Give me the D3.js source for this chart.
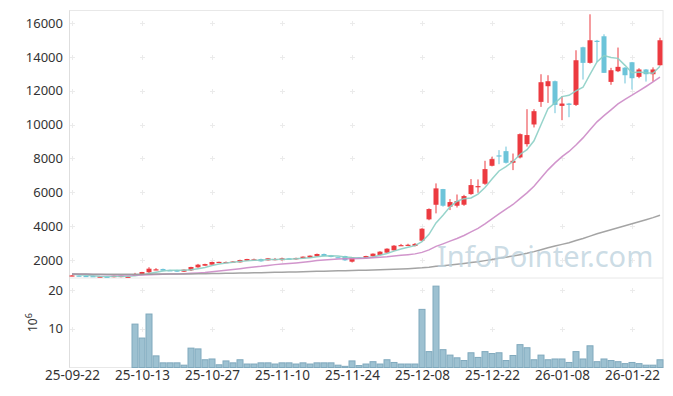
<!DOCTYPE html>
<html>
<head>
<meta charset="utf-8">
<script src="https://cdn.jsdelivr.net/npm/d3@7"></script>
<style>
  body { margin: 0; background: #fff; }
  svg { display: block; font-family: 'Noto Sans', 'DejaVu Sans', sans-serif; }
</style>
</head>
<body>
<svg id="chart" width="673" height="396"></svg>
<script>
// daily candles, one per trading session (index 0 = 25-09-22)
const opens = [
  1050, 1080, 1060, 1050, 1020, 1015, 985, 990, 1010, 1060,
  1140, 1274, 1440, 1470, 1395, 1410, 1310, 1390, 1567, 1665,
  1724, 1860, 1880, 1880, 1862, 1960, 2035, 2059, 1980, 2055,
  2000, 2100, 2040, 2100, 2138, 2216, 2354, 2276, 2165, 2236,
  1900, 2150, 2118, 2216, 2295, 2433, 2570, 2875, 2895, 2830,
  3141, 4401, 5263, 6189, 5147, 5206, 5265, 5894, 6360, 6504,
  7566, 8180, 8430, 7743, 8059, 8843, 10006, 11340, 12266, 12561,
  11104, 11242, 11163, 14567, 13645, 14950, 15216, 12521, 13151, 13360,
  13682, 12820, 13254, 12974, 13505
];
const highs = [
  1110, 1090, 1070, 1060, 1045, 1035, 1080, 1080, 1040, 1240,
  1300, 1575, 1520, 1490, 1420, 1420, 1440, 1600, 1770, 1780,
  1900, 1900, 1910, 1930, 2020, 2070, 2080, 2080, 2120, 2120,
  2140, 2120, 2140, 2210, 2270, 2380, 2380, 2300, 2200, 2250,
  2170, 2170, 2250, 2390, 2520, 2690, 2880, 2950, 2960, 3000,
  3880, 5050, 6525, 6200, 5600, 5870, 5850, 6780, 6760, 7860,
  8100, 8490, 8700, 8290, 9480, 10909, 10909, 12974, 12915, 12600,
  11676, 11280, 14390, 14600, 16514, 15000, 15334, 13350, 14550, 13400,
  13700, 13330, 13280, 13380, 15130
];
const lows = [
  1040, 1040, 1030, 1010, 995, 1000, 975, 980, 995, 1050,
  1130, 1215, 1400, 1360, 1370, 1300, 1290, 1350, 1540, 1650,
  1710, 1840, 1850, 1860, 1850, 1950, 1990, 1900, 1970, 1980,
  1960, 2000, 2020, 2090, 2120, 2200, 2220, 2160, 2140, 1950,
  1860, 2120, 2100, 2200, 2280, 2420, 2560, 2840, 2860, 2800,
  3100, 4350, 4755, 5150, 4950, 5100, 5200, 5850, 5970, 6440,
  7530, 7660, 7700, 7310, 8000, 8700, 9830, 11045, 11280, 10673,
  10260, 10437, 11100, 12660, 13600, 13700, 13055, 12350, 13100, 12430,
  12070, 12740, 12540, 12540, 13480
];
const closes = [
  1090, 1050, 1040, 1020, 1025, 1010, 1070, 1075, 1015, 1156,
  1290, 1487, 1450, 1370, 1390, 1310, 1430, 1587, 1724, 1760,
  1882, 1890, 1882, 1910, 2000, 2059, 2040, 1920, 2100, 2060,
  2100, 2010, 2120, 2197, 2256, 2354, 2236, 2177, 2160, 1980,
  2157, 2140, 2236, 2374, 2492, 2669, 2846, 2880, 2900, 2950,
  3848, 5009, 6230, 5206, 5422, 5481, 5776, 6425, 6366, 7369,
  7959, 8174, 7743, 7860, 9434, 9380, 10791, 12502, 12561, 11163,
  11242, 11163, 13800, 13645, 14980, 14900, 13055, 13210, 13410, 12915,
  12738, 13254, 12974, 13254, 14980
];
// volume in millions of shares
const volumes = [
  0, 0, 0, 0, 0, 0, 0, 0, 0, 11.2,
  7.6, 13.8, 3.0, 1.2, 1.2, 1.2, 0.6, 5.0, 4.8, 2.0,
  2.2, 0.7, 1.7, 1.2, 2.0, 0.9, 0.9, 1.2, 1.2, 0.9,
  1.2, 1.2, 0.9, 1.2, 0.9, 1.2, 1.2, 1.2, 0.6, 0.3,
  1.7, 0.5, 0.9, 1.5, 0.9, 2.0, 1.3, 0.9, 0.9, 0.9,
  15.0, 4.1, 21.0, 4.6, 3.2, 2.5, 1.8, 3.8, 2.6, 4.1,
  3.6, 3.8, 1.8, 3.1, 5.9, 5.1, 2.0, 3.2, 2.0, 2.2,
  2.2, 1.3, 4.1, 2.2, 5.6, 1.5, 2.2, 1.8, 1.5, 1.0,
  1.3, 1.0, 0.6, 0.6, 2.0
];
// average close of the sessions before the window (used for MA warm-up)
const priorClose = 1170;
const maPeriods = [5, 20, 100];
const maColors = ['#8ccfc5', '#cc8ac6', '#9a9a9a'];

const tickLabels = ['25-09-22', '25-10-13', '25-10-27', '25-11-10', '25-11-24',
                    '25-12-08', '25-12-22', '26-01-08', '26-01-22'];
const tickStep = 10;
const priceTicks = [2000, 4000, 6000, 8000, 10000, 12000, 14000, 16000];
const volTicks = [10, 20];

const svg = d3.select('#chart');

/**
 * Scales
 */
const xScale = d3.scaleLinear().domain([0, 84]).range([72, 660]);
const yPrice = d3.scaleLinear().domain([2000, 16000]).range([260, 23]);
const yVol = d3.scaleLinear().domain([0, 20]).range([367.5, 290]);

const frame = { left: 69.5, right: 663, top: 10.5, mid: 278, bottom: 367.5 };

/**
 * Frame
 */
svg.append('rect')
  .attr('x', frame.left).attr('y', frame.top)
  .attr('width', frame.right - frame.left).attr('height', frame.bottom - frame.top)
  .attr('fill', 'none').attr('stroke', '#e8e8e8');
svg.append('line')
  .attr('x1', frame.left).attr('x2', frame.right).attr('y1', frame.mid).attr('y2', frame.mid)
  .attr('stroke', '#e8e8e8');
svg.append('line')
  .attr('x1', frame.left).attr('x2', frame.left).attr('y1', frame.top).attr('y2', frame.bottom)
  .attr('stroke', '#dedede');

/**
 * Grid crosses
 */
const tickIdx = tickLabels.map((d, i) => i * tickStep);
const crossPts = [];
tickIdx.forEach((ti) => {
  priceTicks.forEach((p) => crossPts.push([xScale(ti), yPrice(p)]));
  volTicks.forEach((v) => crossPts.push([xScale(ti), yVol(v)]));
});
const g_grid = svg.append('g').attr('stroke', '#ebebeb').attr('stroke-width', 1);
g_grid.selectAll('.h').data(crossPts).enter().append('line')
  .attr('x1', (d) => d[0] - 2).attr('x2', (d) => d[0] + 3)
  .attr('y1', (d) => Math.round(d[1]) + 0.5).attr('y2', (d) => Math.round(d[1]) + 0.5);
g_grid.selectAll('.v').data(crossPts).enter().append('line')
  .attr('x1', (d) => d[0] + 0.5).attr('x2', (d) => d[0] + 0.5)
  .attr('y1', (d) => Math.round(d[1]) - 2).attr('y2', (d) => Math.round(d[1]) + 3);

/**
 * Volume bars
 */
const volData = volumes.map((v, i) => ({ i, v })).filter((d) => d.v > 0);
svg.append('g').selectAll('rect').data(volData).enter().append('rect')
  .attr('x', (d) => xScale(d.i) - 3)
  .attr('y', (d) => yVol(d.v))
  .attr('width', 6)
  .attr('height', (d) => yVol(0) - yVol(d.v))
  .attr('fill', '#9dc1d1')
  .attr('stroke', '#80a9bd')
  .attr('stroke-width', 1);

/**
 * Candles
 */
const candles = closes.map((c, i) => ({ i, o: opens[i], h: highs[i], l: lows[i], c }));
const upCol = '#ec3a40', downCol = '#6cc4d9';
const g_c = svg.append('g');
g_c.selectAll('.wick').data(candles).enter().append('rect')
  .attr('x', (d) => xScale(d.i) - 0.5)
  .attr('y', (d) => yPrice(d.h))
  .attr('width', 1)
  .attr('height', (d) => Math.max(1, yPrice(d.l) - yPrice(d.h)))
  .attr('fill', (d) => (d.c >= d.o ? upCol : downCol));
g_c.selectAll('.body').data(candles).enter().append('rect')
  .attr('x', (d) => xScale(d.i) - 2.5)
  .attr('y', (d) => yPrice(Math.max(d.o, d.c)))
  .attr('width', 5)
  .attr('height', (d) => Math.max(1.2, Math.abs(yPrice(d.o) - yPrice(d.c))))
  .attr('fill', (d) => (d.c >= d.o ? upCol : downCol));

/**
 * Moving averages
 */
function movingAvg(n) {
  return closes.map((c, i) => {
    let s = 0;
    for (let k = i - n + 1; k <= i; k++) s += k >= 0 ? closes[k] : priorClose;
    return s / n;
  });
}
const line = d3.line().x((d, i) => xScale(i)).y((d) => yPrice(d));
maPeriods.forEach((n, j) => {
  svg.append('path')
    .attr('d', line(movingAvg(n)))
    .attr('fill', 'none')
    .attr('stroke', maColors[j])
    .attr('stroke-width', 1.5)
    .attr('stroke-opacity', 0.9);
});

/**
 * Watermark
 */
svg.append('text')
  .attr('x', 437).attr('y', 267)
  .attr('font-family', "'Noto Sans', 'Open Sans', sans-serif")
  .attr('font-size', 29)
  .attr('fill', '#bed3de')
  .attr('fill-opacity', 0.8)
  .text('InfoPointer.com');

/**
 * Axes
 */
const g_yp = svg.append('g').attr('transform', 'translate(63,0)')
  .call(d3.axisLeft(yPrice).tickValues(priceTicks).tickSize(0).tickFormat(d3.format('d')));
const g_yv = svg.append('g').attr('transform', 'translate(63,0)')
  .call(d3.axisLeft(yVol).tickValues(volTicks).tickSize(0).tickFormat(d3.format('d')));
const g_x = svg.append('g').attr('transform', 'translate(0,' + 368 + ')')
  .call(d3.axisBottom(xScale).tickValues(tickIdx).tickSize(0)
    .tickFormat((d) => tickLabels[d / tickStep]));
[g_yp, g_yv, g_x].forEach((g) => {
  g.select('.domain').remove();
  g.selectAll('text').attr('font-size', 13).attr('fill', '#333')
    .attr('font-family', "'Noto Sans', 'DejaVu Sans', sans-serif");
});
g_yp.selectAll('text').attr('x', 0);
g_yv.selectAll('text').attr('x', 0);
g_x.selectAll('text').attr('y', 2).attr('font-size', 13.5);

/**
 * Volume unit label
 */
const unit = svg.append('text')
  .attr('transform', 'translate(37,332) rotate(-90)')
  .attr('font-size', 12).attr('fill', '#333');
unit.append('tspan').text('10');
unit.append('tspan').attr('dy', -5).attr('font-size', 9).text('6');
</script>
</body>
</html>
